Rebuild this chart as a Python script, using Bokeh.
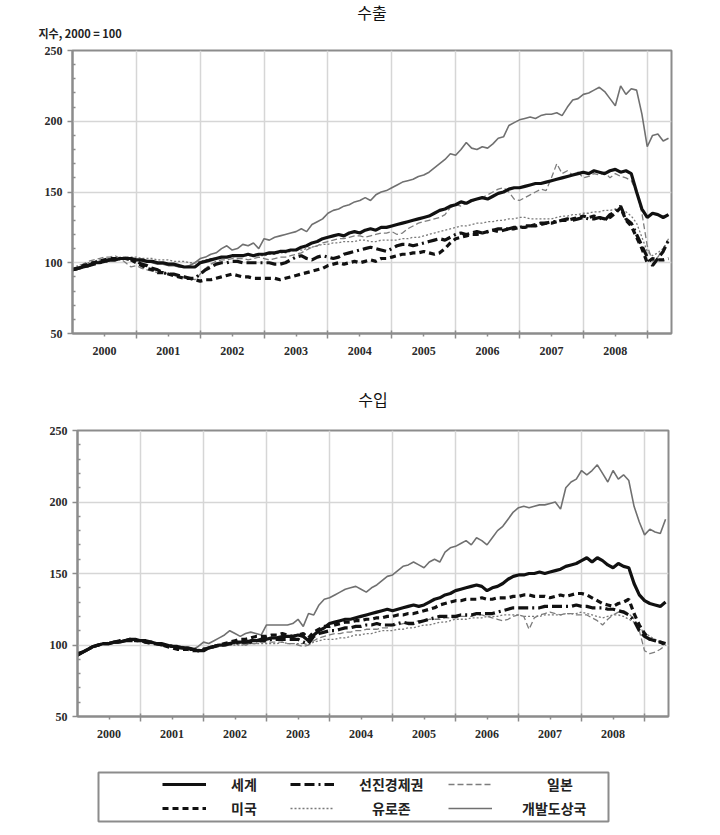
from bokeh.plotting import figure
from bokeh.models import FixedTicker, Legend, LegendItem, Range1d, Title
from bokeh.layouts import column
from bokeh.embed import file_html
from bokeh.resources import INLINE

# ---------------- data ----------------
START_YEAR = 2000
years = [2000, 2001, 2002, 2003, 2004, 2005, 2006, 2007, 2008]
y_ticks = [50, 100, 150, 200, 250]
index_note = "지수, 2000 = 100"
titles = ["수출", "수입"]

# 수출 (exports), monthly Jan 2000 - May 2009
exp_world = [95, 96, 97, 98, 100, 100, 101, 102, 102, 103, 103, 103,
             102, 102, 101, 101, 100, 100, 99, 99, 98, 97, 97, 97,
             100, 101, 102, 103, 104, 104, 105, 105, 105, 106, 105, 106,
             106, 107, 107, 108, 108, 109, 109, 111, 112, 114, 115, 117,
             118, 119, 120, 119, 121, 122, 121, 123, 124, 123, 125, 125,
             126, 127, 128, 129, 130, 131, 132, 133, 135, 137, 138, 140,
             141, 143, 142, 144, 145, 146, 145, 147, 149, 150, 152, 153,
             153, 154, 155, 156, 156, 157, 158, 159, 160, 161, 162, 163,
             164, 163, 165, 164, 163, 165, 166, 164, 165, 163, 150, 138,
             132, 135, 134, 132, 134]
exp_adv = [95, 96, 97, 98, 99, 100, 101, 102, 102, 103, 103, 102,
           101, 99, 98, 96, 95, 93, 92, 92, 91, 90, 89, 89,
           92, 95, 97, 99, 100, 100, 101, 101, 100, 100, 100, 100,
           100, 100, 99, 99, 100, 102, 104, 105, 103, 102, 104, 105,
           104, 103, 104, 106, 107, 108, 109, 110, 111, 110, 109, 108,
           110, 112, 113, 113, 112, 113, 114, 115, 116, 117, 116, 118,
           120, 121, 120, 121, 122, 121, 122, 123, 124, 124, 124, 125,
           125, 126, 126, 127, 128, 128, 129, 129, 130, 131, 130, 131,
           132, 131, 131, 132, 130, 134, 136, 140, 131, 128, 120, 112,
           104, 98, 103, 108, 116]
exp_jpn = [96, 97, 99, 101, 102, 103, 104, 104, 105, 103, 100, 97,
           98, 96, 95, 94, 93, 93, 92, 91, 90, 90, 89, 88,
           92, 96, 99, 101, 102, 102, 103, 103, 103, 102, 103, 104,
           103, 102, 103, 104, 104, 105, 106, 107, 109, 111, 112, 114,
           115, 116, 117, 117, 118, 119, 119, 118, 119, 120, 121, 121,
           122, 120, 121, 124, 126, 128, 129, 130, 131, 132, 134, 139,
           141, 140, 142, 143, 145, 146, 148, 150, 152, 153, 150, 145,
           144, 146, 148, 150, 152, 151, 160, 170, 163, 165, 162, 164,
           160, 161, 163, 162, 164, 160, 163, 161, 160, 158, 150, 135,
           112, 101, 104, 110, 117]
exp_us = [95, 96, 98, 99, 100, 101, 102, 103, 103, 103, 103, 102,
          100, 98, 96, 95, 93, 93, 92, 91, 90, 89, 89, 88,
          87, 88, 88, 89, 90, 91, 92, 91, 90, 90, 89, 89,
          89, 89, 89, 88, 89, 90, 91, 92, 93, 94, 95, 96,
          98, 99, 100, 99, 100, 101, 100, 101, 102, 101, 103, 103,
          104, 105, 106, 106, 107, 107, 108, 107, 106, 107, 110, 114,
          117, 118, 119, 120, 120, 121, 122, 123, 122, 123, 124, 124,
          125, 125, 126, 126, 127, 128, 128, 129, 130, 130, 131, 132,
          133, 132, 133, 132, 131, 132, 135, 139, 130, 126, 118, 110,
          100, 103, 102, 102, 103]
exp_euro = [96, 98, 99, 100, 101, 102, 102, 103, 103, 104, 104, 104,
            104, 103, 103, 103, 102, 102, 102, 101, 101, 101, 100, 100,
            101, 102, 103, 103, 104, 104, 104, 105, 105, 105, 105, 105,
            105, 106, 106, 107, 107, 108, 109, 109, 110, 111, 112, 113,
            113, 114, 114, 115, 115, 115, 116, 116, 115, 115, 116, 116,
            116, 116, 117, 117, 118, 118, 119, 120, 121, 122, 123, 124,
            125, 126, 126, 127, 128, 128, 129, 129, 130, 130, 131, 131,
            132, 132, 131, 131, 131, 131, 131, 132, 133, 133, 134, 134,
            135, 135, 136, 136, 137, 137, 138, 138, 136, 133, 128, 118,
            108, 105, 107, 110, 115]
exp_dev = [95, 96, 98, 99, 100, 101, 102, 102, 103, 103, 104, 103,
           102, 101, 101, 100, 99, 99, 98, 98, 97, 97, 98, 100,
           103, 104, 106, 107, 110, 112, 109, 110, 113, 112, 114, 110,
           117, 116, 118, 119, 120, 121, 122, 124, 122, 127, 129, 131,
           135, 137, 138, 140, 141, 143, 144, 146, 144, 148, 150, 151,
           153, 155, 157, 158, 159, 161, 162, 164, 167, 170, 173, 177,
           176, 180, 185, 181, 180, 182, 181, 184, 188, 189, 197, 199,
           201, 202, 203, 202, 204, 205, 205, 206, 204, 210, 215, 216,
           219, 220, 222, 224, 221, 216, 211, 225, 219, 223, 222, 205,
           182, 190, 191, 186, 188]

# 수입 (imports), monthly Jan 2000 - May 2009
imp_world = [94, 95, 97, 99, 100, 101, 101, 102, 102, 103, 104, 104,
             103, 103, 102, 101, 101, 100, 99, 99, 98, 98, 97, 96,
             96, 98, 99, 100, 100, 101, 102, 102, 102, 103, 103, 104,
             104, 105, 105, 106, 106, 106, 107, 106, 103, 107, 110, 112,
             115, 116, 117, 118, 118, 119, 120, 121, 122, 123, 124, 125,
             124, 125, 126, 127, 128, 127, 128, 130, 132, 133, 135, 136,
             138, 139, 140, 141, 142, 141, 138, 140, 141, 143, 146, 148,
             149, 149, 150, 150, 151, 150, 151, 152, 153, 155, 156, 157,
             159, 161, 158, 161, 159, 156, 154, 157, 155, 154, 143, 135,
             131, 129, 128, 127, 130]
imp_adv = [93, 95, 97, 99, 100, 101, 101, 102, 102, 103, 103, 103,
           103, 102, 102, 101, 100, 100, 99, 98, 98, 97, 97, 96,
           97, 98, 99, 100, 100, 101, 101, 102, 102, 102, 103, 103,
           103, 104, 104, 104, 104, 104, 104, 102, 101, 106, 108, 109,
           110, 110, 111, 112, 112, 113, 113, 114, 114, 115, 114, 114,
           114, 115, 116, 115, 115, 116, 117, 118, 119, 120, 120, 120,
           120, 121, 121, 121, 122, 122, 122, 122, 123, 124, 125, 126,
           126, 126, 126, 126, 126, 127, 127, 127, 127, 127, 127, 128,
           127, 127, 126, 126, 126, 125, 125, 124, 123, 121, 117, 110,
           106, 104, 103, 102, 101]
imp_jpn = [93, 95, 97, 98, 100, 101, 102, 102, 103, 103, 104, 104,
           103, 102, 101, 100, 100, 99, 99, 98, 98, 97, 96, 96,
           97, 98, 98, 99, 100, 100, 101, 101, 100, 101, 101, 102,
           102, 102, 102, 102, 101, 101, 100, 99, 100, 103, 105, 106,
           107, 108, 108, 109, 109, 110, 110, 111, 111, 111, 112, 112,
           114, 114, 115, 116, 116, 117, 117, 118, 118, 118, 119, 119,
           119, 120, 120, 120, 121, 121, 120, 119, 118, 117, 118, 120,
           121, 120, 111, 119, 121, 122, 123, 122, 121, 122, 122, 121,
           121, 121, 119, 117, 114, 118, 121, 123, 124, 122, 118, 110,
           96, 94, 95, 97, 100]
imp_us = [93, 95, 97, 99, 100, 101, 101, 102, 103, 103, 104, 103,
          103, 102, 101, 101, 100, 99, 98, 97, 97, 97, 96, 96,
          97, 98, 99, 100, 101, 102, 103, 104, 104, 105, 106, 106,
          106, 107, 107, 108, 107, 106, 107, 108, 105, 109, 111, 113,
          113, 114, 115, 116, 116, 117, 117, 118, 118, 119, 119, 120,
          120, 121, 121, 122, 122, 123, 124, 125, 126, 128, 129, 130,
          131, 131, 132, 132, 132, 133, 132, 132, 133, 133, 133, 134,
          134, 135, 135, 134, 134, 134, 133, 134, 135, 134, 135, 136,
          136, 135, 133, 131, 129, 128, 127, 129, 130, 132, 122, 114,
          108, 104, 103, 102, 100]
imp_euro = [94, 95, 97, 99, 100, 101, 101, 102, 102, 103, 103, 103,
            103, 102, 102, 101, 101, 100, 100, 99, 99, 98, 98, 97,
            97, 98, 98, 99, 99, 100, 100, 100, 100, 101, 101, 101,
            101, 101, 101, 102, 101, 101, 101, 101, 100, 102, 103, 104,
            104, 104, 105, 105, 106, 107, 107, 108, 108, 109, 110, 110,
            110, 111, 111, 112, 112, 113, 114, 114, 115, 116, 116, 117,
            118, 118, 118, 119, 119, 119, 120, 120, 120, 121, 121, 121,
            121, 120, 120, 120, 120, 121, 121, 121, 121, 122, 122, 122,
            123, 122, 121, 120, 119, 120, 121, 121, 120, 118, 116, 112,
            109, 106, 104, 102, 101]
imp_dev = [94, 95, 97, 99, 100, 101, 101, 102, 103, 103, 104, 104,
           103, 102, 102, 101, 100, 100, 99, 98, 98, 97, 97, 99,
           102, 101, 103, 105, 107, 110, 108, 106, 108, 109, 108, 107,
           114, 114, 114, 114, 114, 115, 118, 113, 122, 121, 128, 132,
           133, 135, 137, 139, 140, 141, 139, 137, 140, 142, 145, 148,
           149, 152, 155, 156, 158, 156, 154, 158, 160, 158, 165, 168,
           169, 171, 173, 170, 175, 173, 170, 175, 180, 183, 188, 193,
           196, 197, 196, 197, 198, 198, 199, 200, 195, 210, 214, 216,
           222, 219, 222, 226, 220, 214, 222, 216, 219, 215, 197, 186,
           177, 181, 179, 178, 188]

export_data = {"세계": exp_world, "선진경제권": exp_adv, "일본": exp_jpn,
               "미국": exp_us, "유로존": exp_euro, "개발도상국": exp_dev}
import_data = {"세계": imp_world, "선진경제권": imp_adv, "일본": imp_jpn,
               "미국": imp_us, "유로존": imp_euro, "개발도상국": imp_dev}

# ---------------- styles ----------------
STYLE = {
    "세계": dict(line_color="#111111", line_width=3.2),
    "선진경제권": dict(line_color="#111111", line_width=3.2, line_dash="10 4 10 4 2 4"),
    "일본": dict(line_color="#7d7d7d", line_width=1.3, line_dash="6 3"),
    "미국": dict(line_color="#111111", line_width=3.2, line_dash="6 4"),
    "유로존": dict(line_color="#7a7a7a", line_width=1.3, line_dash="2 2"),
    "개발도상국": dict(line_color="#707070", line_width=1.6),
}
DRAW_ORDER = ["개발도상국", "유로존", "일본", "미국", "선진경제권", "세계"]

GRID = "#d6d6d6"
AXIS = "#8c8c8c"
TICK_FONT = "Liberation Serif"
KR_FONT = "Noto Sans CJK KR"
W = 712


def month_x(n):
    return [START_YEAR + i / 12 for i in range(n)]


def make_chart(title, data, height, left, right, top, bottom, title_standoff,
               note=None, note_standoff=0):
    p = figure(width=W, height=height, output_backend="svg", toolbar_location=None,
               x_range=Range1d(2000, 2009.38), y_range=Range1d(50, 250),
               min_border_left=left, min_border_right=right,
               min_border_top=top, min_border_bottom=bottom, frame_align=False)
    p.background_fill_color = "white"
    p.border_fill_color = "white"
    p.outline_line_color = AXIS
    p.outline_line_width = 2

    xa = p.xaxis[0]
    xa.ticker = FixedTicker(ticks=[y + 0.5 for y in years],
                            minor_ticks=[y + 1 for y in years])
    xa.major_label_overrides = {y + 0.5: str(y) for y in years}
    xa.major_tick_in = 0
    xa.major_tick_out = 3
    xa.minor_tick_in = 3
    xa.minor_tick_out = 5
    xa.major_label_standoff = 8

    ya = p.yaxis[0]
    ya.ticker = FixedTicker(ticks=y_ticks,
                            minor_ticks=[v for v in range(60, 250, 10) if v % 50 != 0])
    ya.major_tick_in = 0
    ya.major_tick_out = 5
    ya.minor_tick_in = 3
    ya.minor_tick_out = 0
    ya.major_label_standoff = 5

    for ax in (xa, ya):
        ax.axis_line_color = AXIS
        ax.axis_line_width = 2
        ax.major_tick_line_color = AXIS
        ax.minor_tick_line_color = AXIS
        ax.major_tick_line_width = 1.5
        ax.minor_tick_line_width = 1.5
        ax.major_label_text_font = TICK_FONT
        ax.major_label_text_font_style = "bold"
        ax.major_label_text_font_size = "12px"
        ax.major_label_text_color = "#2a2a2a"

    p.xgrid.ticker = FixedTicker(ticks=[y + 1 for y in years])
    p.ygrid.ticker = FixedTicker(ticks=[100, 150, 200])
    p.grid.grid_line_color = GRID
    p.grid.grid_line_width = 1.5

    for name in DRAW_ORDER:
        vals = data[name]
        p.line(month_x(len(vals)), vals, **STYLE[name])

    if note:
        p.add_layout(Title(text=note, align="left", offset=-34, standoff=note_standoff,
                           text_font=KR_FONT, text_font_style="bold",
                           text_font_size="11px", text_color="#222222"), "above")
    p.add_layout(Title(text=title, align="center", standoff=title_standoff,
                       text_font=KR_FONT, text_font_style="normal",
                       text_font_size="16px", text_color="#111111"), "above")
    return p


p1 = make_chart(titles[0], export_data, 364, 72, W - 671, 50, 31, -22,
                note=index_note, note_standoff=20)
p2 = make_chart(titles[1], import_data, 401, 77, W - 668, 66, 49, 40)

# ---------------- legend ----------------
leg = figure(width=W, height=70, output_backend="svg", toolbar_location=None,
             x_axis_type=None, y_axis_type=None,
             x_range=Range1d(0, 1), y_range=Range1d(0, 1),
             min_border_left=98, min_border_right=W - 608, min_border_top=7,
             min_border_bottom=14, frame_align=False)
leg.outline_line_color = AXIS
leg.outline_line_width = 2
leg.background_fill_color = "white"
leg.border_fill_color = "white"

dummy = {name: leg.line(x=[-1], y=[-1], **STYLE[name]) for name in STYLE}

# (name, glyph x within box, row y from box bottom, text standoff)
legend_slots = [("세계", 64, 27, 25), ("미국", 64, 3, 25),
                ("선진경제권", 192, 27, 25), ("유로존", 192, 3, 38),
                ("일본", 350, 27, 55), ("개발도상국", 350, 3, 30)]
for name, x, y, so in legend_slots:
    lg = Legend(items=[LegendItem(label=name, renderers=[dummy[name]])],
                location=(x, y), orientation="vertical",
                border_line_alpha=0, background_fill_alpha=0,
                padding=0, margin=0, spacing=0,
                glyph_width=44, glyph_height=16, label_height=16,
                label_standoff=so,
                label_text_font=KR_FONT, label_text_font_size="14px",
                label_text_font_style="bold", label_text_color="#222222")
    leg.add_layout(lg)

layout = column(p1, p2, leg)
open("out.html", "w").write(file_html(layout, INLINE))
